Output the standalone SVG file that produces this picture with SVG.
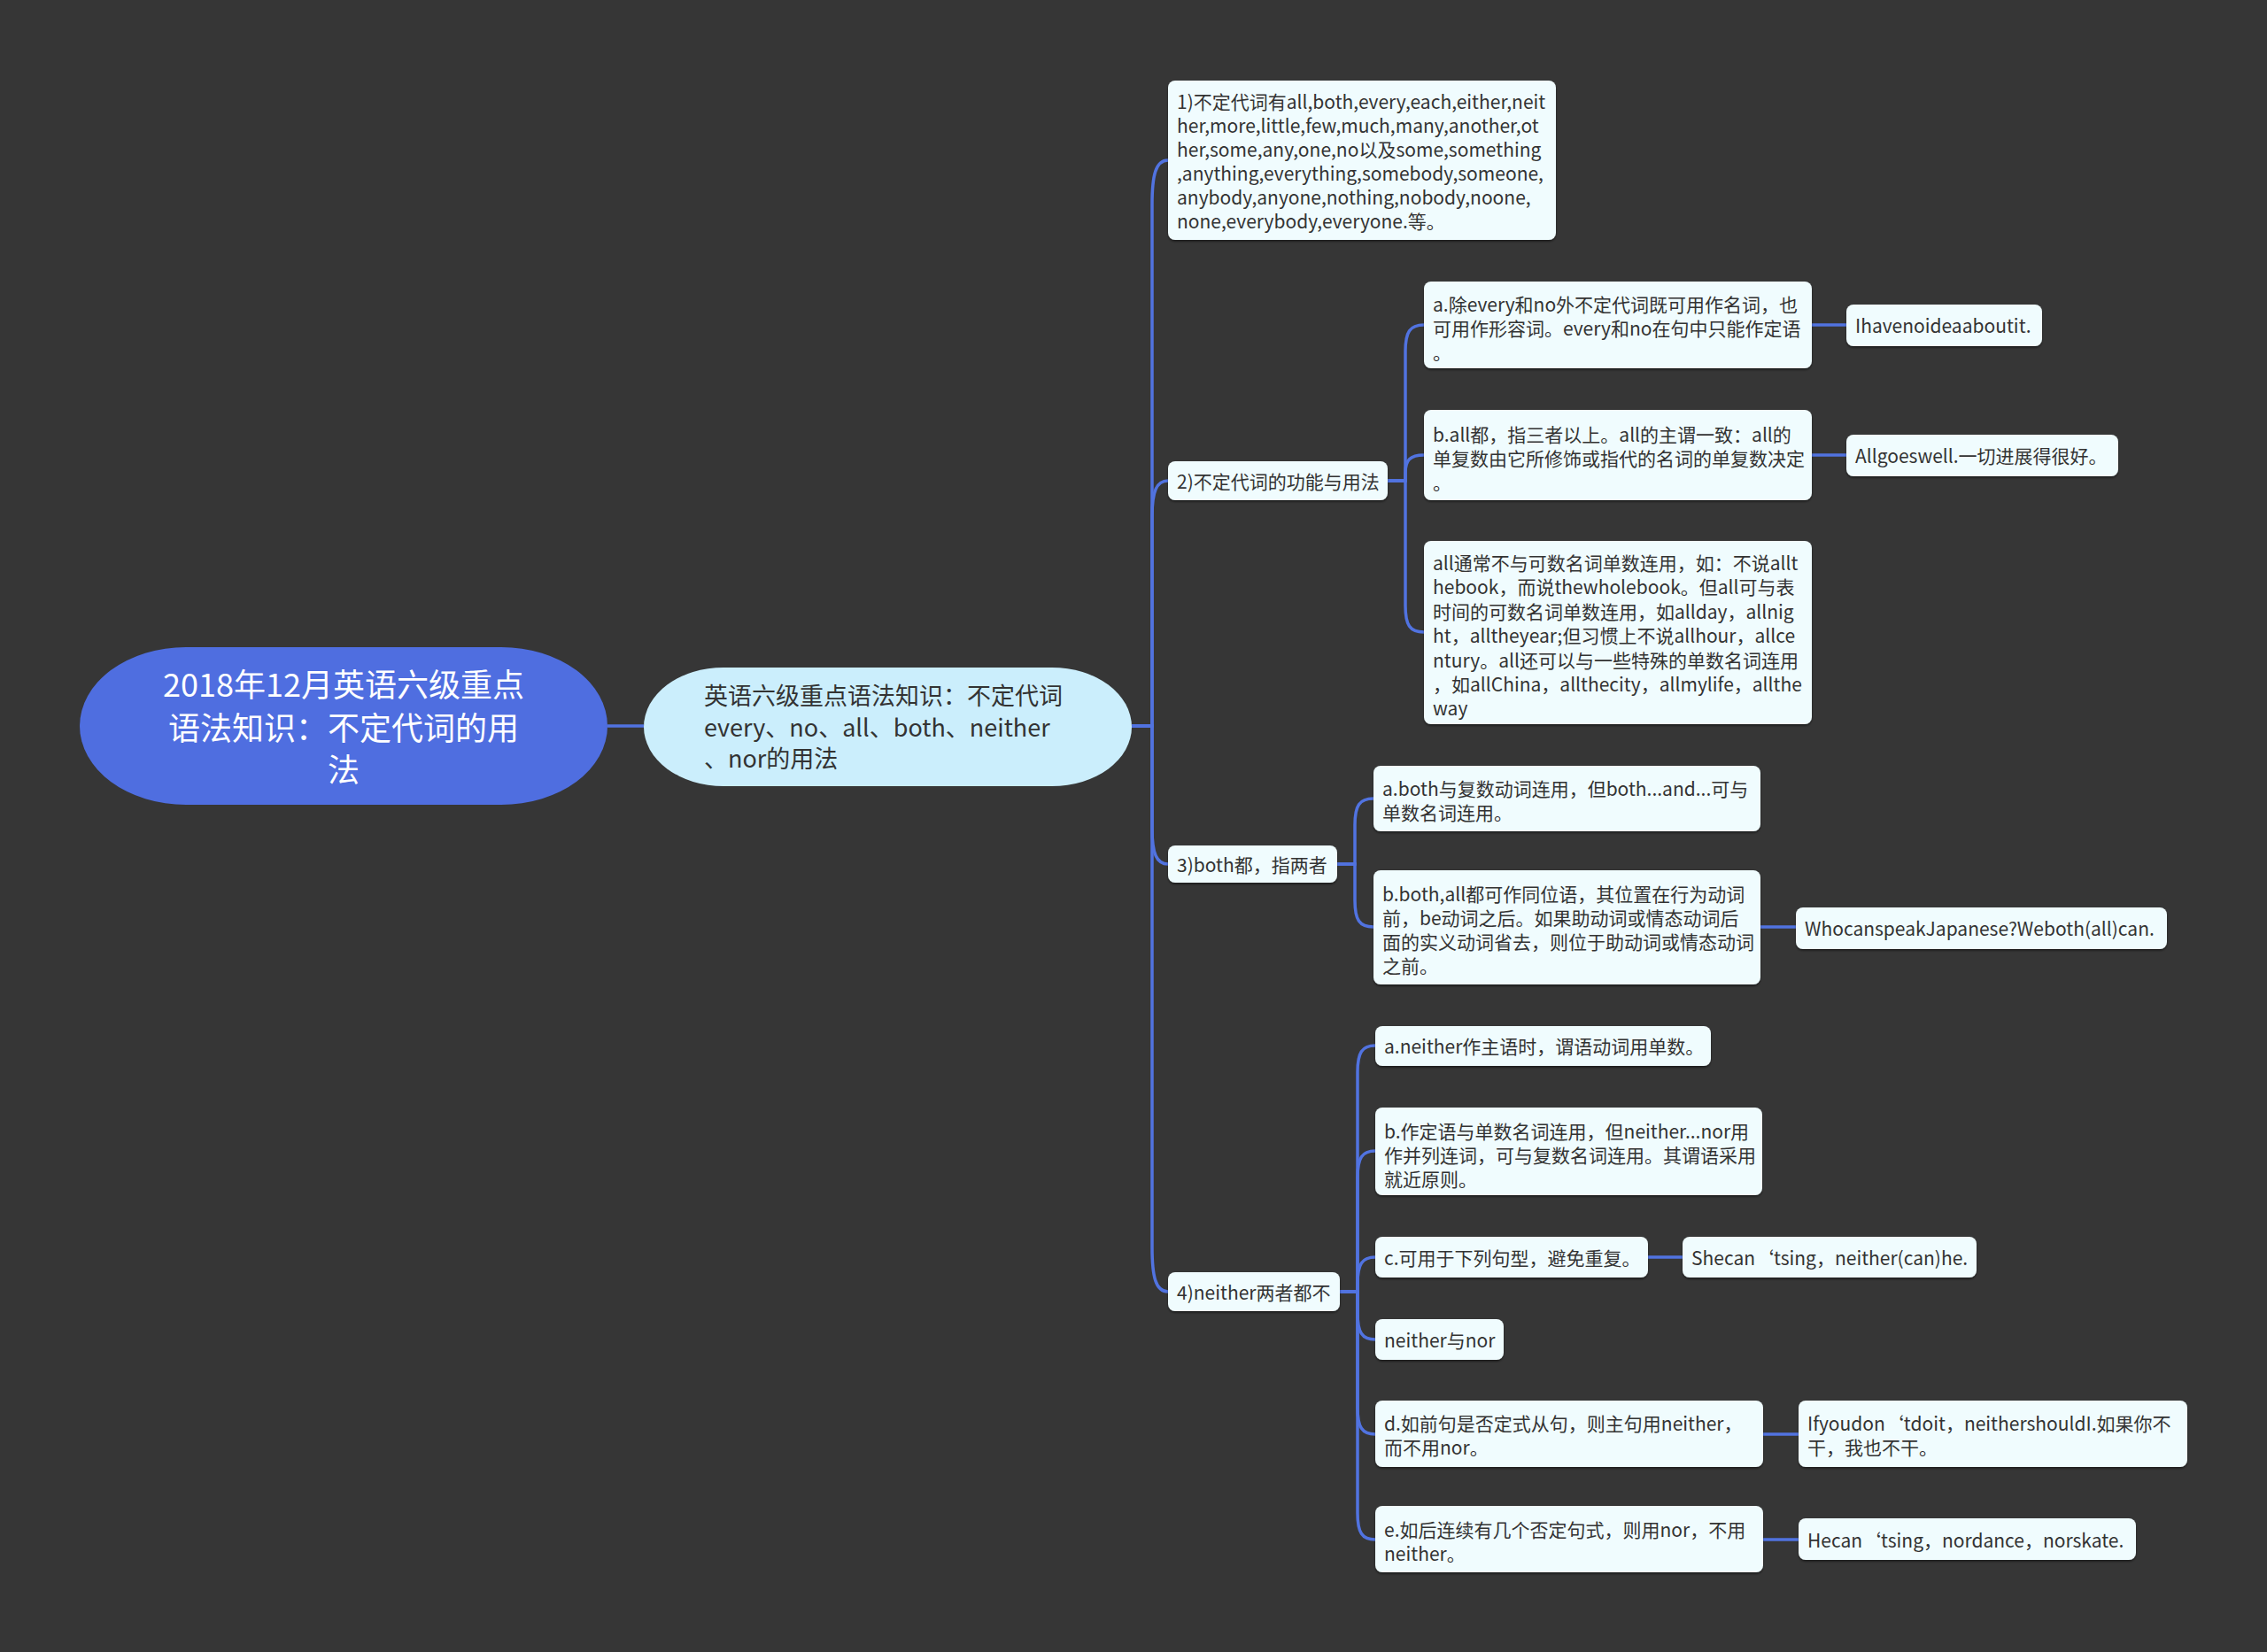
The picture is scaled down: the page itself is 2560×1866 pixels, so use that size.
<svg xmlns="http://www.w3.org/2000/svg" width="2560" height="1866" viewBox="0 0 2560 1866">
<defs>
<filter id="sh" x="-5%" y="-10%" width="110%" height="130%">
<feDropShadow dx="0" dy="2" stdDeviation="1.2" flood-color="#000" flood-opacity="0.45"/>
</filter>
<style>
.t{font-family:"Noto Sans CJK SC","Noto Sans",sans-serif;font-size:21px;fill:#333;dominant-baseline:central}
.n{fill:#f0fcfe;filter:url(#sh)}
.c{fill:none;stroke:#5173e0;stroke-width:3.5}
</style>
</defs>
<rect width="2560" height="1866" fill="#363636"/>
<g id="connectors">
<path class="c" d="M686 820H727"/>
<path class="c" d="M1278 820H1301V231C1301 198 1305 181 1319 181"/>
<path class="c" d="M1278 820H1301V583C1301 555 1306 543 1319 543"/>
<path class="c" d="M1278 820H1301V936C1301 964 1306 976 1319 976"/>
<path class="c" d="M1278 820H1301V1409C1301 1442 1305 1459 1319 1459"/>
<path class="c" d="M1567 543H1587V397C1587 375 1592 367 1608 367"/>
<path class="c" d="M1567 543H1587V534C1587 520 1592 514 1608 514"/>
<path class="c" d="M1567 543H1587V684C1587 706 1592 714 1608 714"/>
<path class="c" d="M1510 976H1530V932C1530 910 1535 902 1551 902"/>
<path class="c" d="M1510 976H1530V1017C1530 1039 1535 1047 1551 1047"/>
<path class="c" d="M1513 1459H1533V1211C1533 1189 1538 1181 1553 1181"/>
<path class="c" d="M1513 1459H1533V1330C1533 1308 1538 1300 1553 1300"/>
<path class="c" d="M1513 1459H1533V1450C1533 1428 1538 1420 1553 1420"/>
<path class="c" d="M1513 1459H1533V1483C1533 1505 1538 1513 1553 1513"/>
<path class="c" d="M1513 1459H1533V1590C1533 1612 1538 1620 1553 1620"/>
<path class="c" d="M1513 1459H1533V1709C1533 1731 1538 1739 1553 1739"/>
<path class="c" d="M2046 367H2085"/>
<path class="c" d="M2046 514H2085"/>
<path class="c" d="M1988 1047H2028"/>
<path class="c" d="M1861 1420H1900"/>
<path class="c" d="M1991 1620H2031"/>
<path class="c" d="M1991 1739H2031"/>
</g>
<g id="root">
<rect x="90" y="731" width="596" height="178" rx="120" ry="89" fill="#4f6ee0"/>
<text class="t" style="font-size:36px;fill:#fff" text-anchor="middle" x="388"><tspan x="388" y="771">2018年12月英语六级重点</tspan><tspan x="388" y="820">语法知识：不定代词的用</tspan><tspan x="388" y="867">法</tspan></text>
</g>
<g id="main">
<rect x="727" y="754" width="551" height="134" rx="90" ry="67" fill="#cbeefc"/>
<text class="t" style="font-size:27px"><tspan x="795" y="784">英语六级重点语法知识：不定代词</tspan><tspan x="795" y="820">every、no、all、both、neither</tspan><tspan x="795" y="855">、nor的用法</tspan></text>
</g>
<g id="n1">
<rect class="n" x="1319" y="91" width="438" height="180" rx="8"/>
<text class="t"><tspan x="1329" y="114">1)不定代词有all,both,every,each,either,neit</tspan><tspan x="1329" y="141">her,more,little,few,much,many,another,ot</tspan><tspan x="1329" y="168">her,some,any,one,no以及some,something</tspan><tspan x="1329" y="195">,anything,everything,somebody,someone,</tspan><tspan x="1329" y="222">anybody,anyone,nothing,nobody,noone,</tspan><tspan x="1329" y="249">none,everybody,everyone.等。</tspan></text>
</g>
<g id="n2">
<rect class="n" x="1319" y="521" width="248" height="44" rx="8"/>
<text class="t" x="1329" y="543">2)不定代词的功能与用法</text>
</g>
<g id="n2a">
<rect class="n" x="1608" y="318" width="438" height="98" rx="8"/>
<text class="t"><tspan x="1618" y="343">a.除every和no外不定代词既可用作名词，也</tspan><tspan x="1618" y="370">可用作形容词。every和no在句中只能作定语</tspan><tspan x="1618" y="397">。</tspan></text>
</g>
<g id="n2a1">
<rect class="n" x="2085" y="344" width="221" height="47" rx="8"/>
<text class="t" x="2095" y="367">Ihavenoideaaboutit.</text>
</g>
<g id="n2b">
<rect class="n" x="1608" y="463" width="438" height="102" rx="8"/>
<text class="t"><tspan x="1618" y="490">b.all都，指三者以上。all的主谓一致：all的</tspan><tspan x="1618" y="517">单复数由它所修饰或指代的名词的单复数决定</tspan><tspan x="1618" y="544">。</tspan></text>
</g>
<g id="n2b1">
<rect class="n" x="2085" y="491" width="307" height="47" rx="8"/>
<text class="t" x="2095" y="514">Allgoeswell.一切进展得很好。</text>
</g>
<g id="n2c">
<rect class="n" x="1608" y="611" width="438" height="207" rx="8"/>
<text class="t"><tspan x="1618" y="635">all通常不与可数名词单数连用，如：不说allt</tspan><tspan x="1618" y="662">hebook，而说thewholebook。但all可与表</tspan><tspan x="1618" y="690">时间的可数名词单数连用，如allday，allnig</tspan><tspan x="1618" y="717">ht，alltheyear;但习惯上不说allhour，allce</tspan><tspan x="1618" y="745">ntury。all还可以与一些特殊的单数名词连用</tspan><tspan x="1618" y="772">，如allChina，allthecity，allmylife，allthe</tspan><tspan x="1618" y="799">way</tspan></text>
</g>
<g id="n3">
<rect class="n" x="1319" y="955" width="191" height="42" rx="8"/>
<text class="t" x="1329" y="976">3)both都，指两者</text>
</g>
<g id="n3a">
<rect class="n" x="1551" y="865" width="437" height="74" rx="8"/>
<text class="t"><tspan x="1561" y="890">a.both与复数动词连用，但both...and...可与</tspan><tspan x="1561" y="917">单数名词连用。</tspan></text>
</g>
<g id="n3b">
<rect class="n" x="1551" y="983" width="437" height="129" rx="8"/>
<text class="t"><tspan x="1561" y="1009">b.both,all都可作同位语，其位置在行为动词</tspan><tspan x="1561" y="1036">前，be动词之后。如果助动词或情态动词后</tspan><tspan x="1561" y="1063">面的实义动词省去，则位于助动词或情态动词</tspan><tspan x="1561" y="1090">之前。</tspan></text>
</g>
<g id="n3b1">
<rect class="n" x="2028" y="1025" width="419" height="47" rx="8"/>
<text class="t" x="2038" y="1048">WhocanspeakJapanese?Weboth(all)can.</text>
</g>
<g id="n4">
<rect class="n" x="1319" y="1437" width="194" height="44" rx="8"/>
<text class="t" x="1329" y="1459">4)neither两者都不</text>
</g>
<g id="n4a">
<rect class="n" x="1553" y="1159" width="379" height="45" rx="8"/>
<text class="t" x="1563" y="1181">a.neither作主语时，谓语动词用单数。</text>
</g>
<g id="n4b">
<rect class="n" x="1553" y="1251" width="437" height="99" rx="8"/>
<text class="t"><tspan x="1563" y="1277">b.作定语与单数名词连用，但neither...nor用</tspan><tspan x="1563" y="1304">作并列连词，可与复数名词连用。其谓语采用</tspan><tspan x="1563" y="1331">就近原则。</tspan></text>
</g>
<g id="n4c">
<rect class="n" x="1553" y="1397" width="308" height="46" rx="8"/>
<text class="t" x="1563" y="1420">c.可用于下列句型，避免重复。</text>
</g>
<g id="n4c1">
<rect class="n" x="1900" y="1397" width="332" height="46" rx="8"/>
<text class="t" x="1910" y="1420">Shecan‘tsing，neither(can)he.</text>
</g>
<g id="n4n">
<rect class="n" x="1553" y="1490" width="145" height="46" rx="8"/>
<text class="t" x="1563" y="1513">neither与nor</text>
</g>
<g id="n4d">
<rect class="n" x="1553" y="1582" width="438" height="75" rx="8"/>
<text class="t"><tspan x="1563" y="1607">d.如前句是否定式从句，则主句用neither，</tspan><tspan x="1563" y="1634">而不用nor。</tspan></text>
</g>
<g id="n4d1">
<rect class="n" x="2031" y="1582" width="439" height="75" rx="8"/>
<text class="t"><tspan x="2041" y="1607">Ifyoudon‘tdoit，neithershouldI.如果你不</tspan><tspan x="2041" y="1634">干，我也不干。</tspan></text>
</g>
<g id="n4e">
<rect class="n" x="1553" y="1701" width="438" height="75" rx="8"/>
<text class="t"><tspan x="1563" y="1727">e.如后连续有几个否定句式，则用nor，不用</tspan><tspan x="1563" y="1754">neither。</tspan></text>
</g>
<g id="n4e1">
<rect class="n" x="2031" y="1715" width="381" height="47" rx="8"/>
<text class="t" x="2041" y="1739">Hecan‘tsing，nordance，norskate.</text>
</g>
</svg>
